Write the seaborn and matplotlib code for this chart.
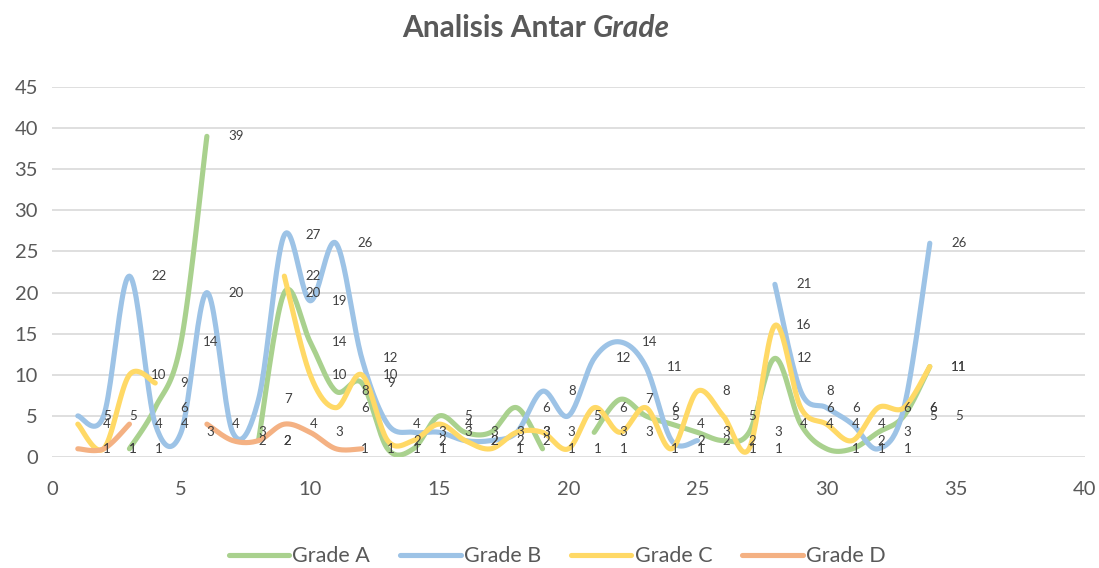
import matplotlib
matplotlib.use("Agg")
import matplotlib.pyplot as plt
import seaborn as sns
import pandas as pd
import numpy as np

nan = np.nan
x_vals = list(range(1, 35))
grade_a = [nan, nan, 1, 6, 14, 39, nan, 2, 20, 14, 8, 9, 1, 1, 5, 3, 3, 6, 1, nan,
           3, 7, 5, 4, 3, 2, 3, 12, 4, 1, 1, 3, 5, 11]
grade_b = [5, 5, 22, 4, 3, 20, 3, 7, 27, 19, 26, 12, 4, 3, 3, 2, 2, 3, 8, 5,
           12, 14, 11, 2, 2, nan, nan, 21, 8, 6, 4, 1, 6, 26]
grade_c = [4, 1, 10, 9, nan, nan, nan, nan, 22, 10, 6, 10, 2, 2, 4, 2, 1, 3, 3, 1,
           6, 3, 6, 1, 8, 5, 1, 16, 6, 4, 2, 6, 6, 11]
grade_d = [1, 1, 4, nan, nan, 4, 2, 2, 4, 3, 1, 1, nan, nan, nan, nan, nan, 2, nan, nan,
           1, nan, 1, nan, nan, 1, nan, 4, nan, nan, nan, nan, nan, 5]

series = {'Grade A': grade_a, 'Grade B': grade_b, 'Grade C': grade_c, 'Grade D': grade_d}
colors = {'Grade A': '#A9D18E', 'Grade B': '#9DC3E6', 'Grade C': '#FFD966', 'Grade D': '#F4B183'}


def smooth(xs, ys, n=24):
    # bezier smoothing like excel's "smoothed line"
    xs = np.asarray(xs, float)
    ys = np.asarray(ys, float)
    out_x, out_y = [xs[0]], [ys[0]]
    for i in range(len(xs) - 1):
        p0 = np.array([xs[max(i - 1, 0)], ys[max(i - 1, 0)]])
        p1 = np.array([xs[i], ys[i]])
        p2 = np.array([xs[i + 1], ys[i + 1]])
        p3 = np.array([xs[min(i + 2, len(xs) - 1)], ys[min(i + 2, len(xs) - 1)]])
        c1 = p1 + (p2 - p0) / 6
        c2 = p2 - (p3 - p1) / 6
        t = np.linspace(0, 1, n)[1:, None]
        pts = (1 - t) ** 3 * p1 + 3 * (1 - t) ** 2 * t * c1 + 3 * (1 - t) * t ** 2 * c2 + t ** 3 * p2
        out_x.extend(pts[:, 0])
        out_y.extend(pts[:, 1])
    return out_x, out_y


rows = []
for name, vals in series.items():
    seg, run = 0, []
    for xv, yv in list(zip(x_vals, vals)) + [(None, nan)]:
        if np.isnan(yv):
            if len(run) > 1:
                sx, sy = smooth([r[0] for r in run], [r[1] for r in run])
                for a, b in zip(sx, sy):
                    rows.append({'x': a, 'y': b, 'grade': name, 'seg': f'{name}-{seg}'})
            seg += 1
            run = []
        else:
            run.append((xv, yv))
df = pd.DataFrame(rows)

sns.set_style('white')
plt.rcParams['font.family'] = ['Lato', 'DejaVu Sans']

fig = plt.figure(figsize=(10.99, 5.68), dpi=100)
ax = fig.add_axes([0.0473, 0.1954, 0.9397, 0.6514])

sns.lineplot(data=df, x='x', y='y', hue='grade', units='seg', estimator=None, sort=False,
             palette=colors, linewidth=3.7, solid_capstyle='round', ax=ax)

for name, vals in series.items():
    for xv, yv in zip(x_vals, vals):
        if not np.isnan(yv):
            ax.annotate(f'{int(yv)}', (xv, yv), xytext=(21, 0), textcoords='offset points',
                        ha='center', va='center', fontsize=9.5, color='#404040')

ax.set_xlim(0, 40)
ax.set_ylim(0, 45)
ax.set_xticks(range(0, 41, 5))
ax.set_yticks(range(0, 46, 5))
ax.set(xlabel='', ylabel='')
ax.yaxis.grid(True, color='#d9d9d9', linewidth=1.2)
ax.set_axisbelow(True)
for s in ax.spines.values():
    s.set_visible(False)
ax.tick_params(length=0, labelsize=14.5, labelcolor='#595959')
ax.tick_params(axis='y', pad=10)
ax.tick_params(axis='x', pad=17)

handles, labels = ax.get_legend_handles_labels()
ax.legend_.remove()
fig.legend(handles, labels, loc='center', bbox_to_anchor=(0.507, 0.021), ncol=4, frameon=False,
           fontsize=15.5, labelcolor='#595959', handlelength=2.8, handletextpad=0.15, columnspacing=1.4)

# title: "Analisis Antar" bold + "Grade" bold italic
t1 = fig.text(0, 0.951, 'Analisis Antar ', fontsize=21.5, fontweight='bold', color='#595959', va='center')
t2 = fig.text(0, 0.951, 'Grade', fontsize=21.5, fontweight='bold', style='italic', color='#595959', va='center')
r = fig.canvas.get_renderer()
w1 = t1.get_window_extent(r).width / fig.bbox.width
w2 = t2.get_window_extent(r).width / fig.bbox.width
start = 536 / 1099 - (w1 + w2) / 2
t1.set_x(start)
t2.set_x(start + w1)

plt.savefig('out.png', dpi=100)
plt.close()
